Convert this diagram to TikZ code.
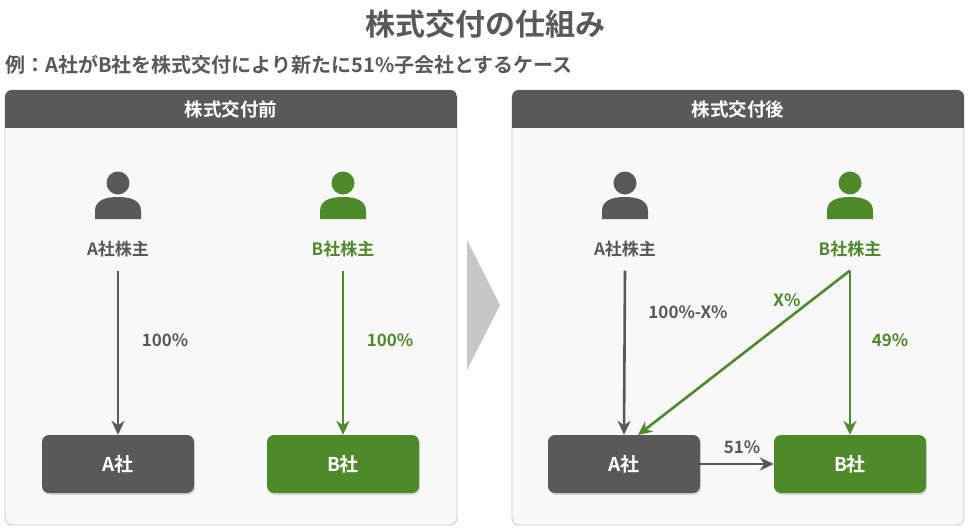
\documentclass[tikz,border=0pt]{standalone}
\usepackage{fontspec}
\setmainfont{Noto Sans CJK JP}[BoldFont={Noto Sans CJK JP Bold}]
\usetikzlibrary{arrows.meta,shadows}
\definecolor{dg}{HTML}{595959}
\definecolor{gr}{HTML}{4E8A2A}
\definecolor{pbg}{HTML}{F7F8F7}
\definecolor{pbd}{HTML}{C8C8C8}
\tikzset{
 panel/.style={draw=pbd,fill=pbg,rounded corners=7pt,line width=0.8pt},
 hdrtxt/.style={text=white,font=\bfseries\fontsize{18.5}{20}\selectfont},
 cbox/.style={rounded corners=7pt,minimum width=152pt,minimum height=58pt,text=white,font=\bfseries\fontsize{19}{20}\selectfont,drop shadow={opacity=0.25,shadow xshift=1pt,shadow yshift=-2pt}},
 lbl/.style={font=\bfseries\fontsize{17}{18}\selectfont},
 arr/.style={line width=2.6pt,-{Stealth[length=14pt,width=13pt]}},
}
\newcommand{\person}[3]{%
 \fill[#3] (#1,#2-12) circle (11.5);
 \fill[#3] (#1-23,#2+24) -- (#1-23,#2+16) .. controls (#1-23,#2+6) and (#1-14,#2+2) .. (#1,#2+2) .. controls (#1+14,#2+2) and (#1+23,#2+6) .. (#1+23,#2+16) -- (#1+23,#2+24) -- cycle;}
\begin{document}
\begin{tikzpicture}[x=1pt,y=-1pt]
\useasboundingbox (0,0) rectangle (970,531);
\node[font=\bfseries\fontsize{30}{32}\selectfont,text=dg] (title) at (485,24) {株式交付の仕組み};
\node[anchor=west,font=\bfseries\fontsize{20}{22}\selectfont,text=dg] (sub) at (2,65) {例：A社がB社を株式交付により新たに51\%子会社とするケース};
% panels
\foreach \x/\t/\n in {5/株式交付前/L,512/株式交付後/R}{
 \draw[panel] (\x,90) rectangle (\x+452,525);
 \begin{scope}
 \clip[rounded corners=7pt] (\x,90) rectangle (\x+452,525);
 \fill[dg] (\x,90) rectangle (\x+452,128);
 \end{scope}
 \node[hdrtxt] (h\n) at (\x+226,109) {\t};
}
% chevron
\fill[black!22] (467,240) -- (500,305) -- (467,370) -- cycle;
% persons
\person{118}{195}{dg}
\person{343}{195}{gr}
\person{625}{195}{dg}
\person{850}{195}{gr}
\node[lbl,text=dg] (pa1) at (118,249) {A社株主};
\node[lbl,text=gr] (pb1) at (343,249) {B社株主};
\node[lbl,text=dg] (pa2) at (625,249) {A社株主};
\node[lbl,text=gr] (pb2) at (850,249) {B社株主};
% boxes
\node[cbox,fill=dg] (a1) at (118,464) {A社};
\node[cbox,fill=gr] (b1) at (343,464) {B社};
\node[cbox,fill=dg] (a2) at (624,464) {A社};
\node[cbox,fill=gr] (b2) at (850,464) {B社};
% arrows
\draw[arr,dg] (pa1.south) ++(0,10) -- (a1.north);
\draw[arr,gr] (pb1.south) ++(0,10) -- (b1.north);
\draw[arr,dg] (pa2.south) ++(0,10) -- (a2.north);
\draw[arr,gr] (pb2.south) ++(0,10) coordinate (s4) -- (b2.north);
\draw[arr,gr] (s4) -- (638,435);
\draw[arr,dg] (a2.east) -- (b2.west);
\node[lbl,text=dg] at (165,340) {100\%};
\node[lbl,text=gr] at (390,340) {100\%};
\node[lbl,text=dg] at (688,312) {100\%-X\%};
\node[lbl,text=gr] at (890,340) {49\%};
\node[lbl,text=gr] at (787,300) {X\%};
\node[lbl,text=dg] at (742,447) {51\%};
\end{tikzpicture}
\end{document}
